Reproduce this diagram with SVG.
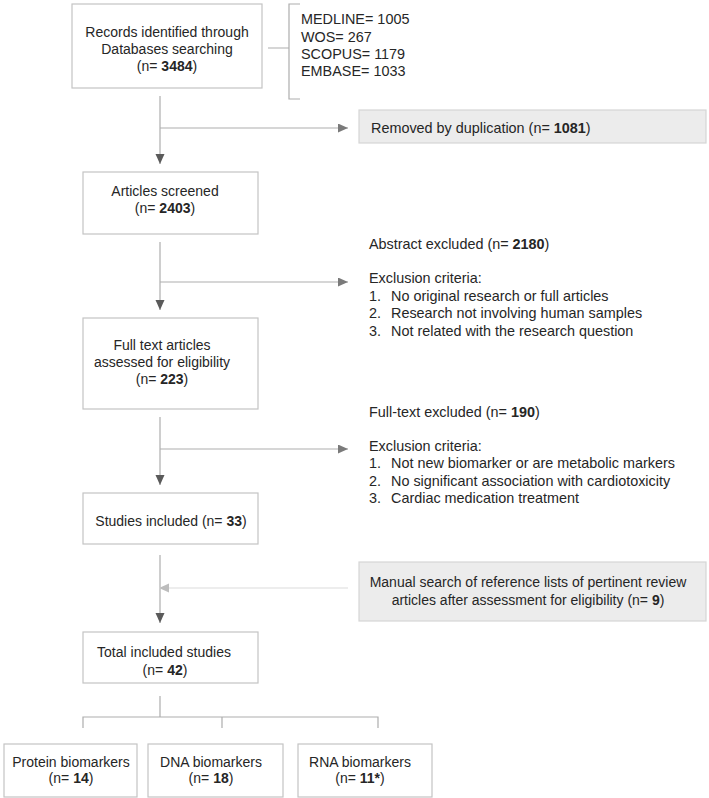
<svg xmlns="http://www.w3.org/2000/svg" width="709" height="798" viewBox="0 0 709 798">
<style>
text{font-family:"Liberation Sans",Arial,sans-serif;font-size:14px;fill:#262626}
.r{font-size:14.4px}
.c{text-anchor:middle}
.b{font-weight:bold}
.box{fill:#fff;stroke:#c4c4c4;stroke-width:1.2}
.gbox{fill:#ececec;stroke:#d6d6d6;stroke-width:1.2}
.ln{fill:none;stroke:#adadad;stroke-width:1.2}
.lg{fill:none;stroke:#dcdcdc;stroke-width:1.2}
</style>
<defs>
<marker id="arr" markerUnits="userSpaceOnUse" markerWidth="11" markerHeight="10" refX="10" refY="4.5" orient="auto"><path d="M0,0 L10,4.5 L0,9 z" fill="#5a5a5a"/></marker>
<marker id="arrh" markerUnits="userSpaceOnUse" markerWidth="11" markerHeight="10" refX="10" refY="4.5" orient="auto"><path d="M0,0 L10,4.5 L0,9 z" fill="#7a7a7a"/></marker>
<marker id="arrg" markerUnits="userSpaceOnUse" markerWidth="11" markerHeight="10" refX="10" refY="4.5" orient="auto"><path d="M0,0 L10,4.5 L0,9 z" fill="#bdbdbd"/></marker>
</defs>
<rect width="709" height="798" fill="#fff"/>
<g id="connectors">
<path class="ln" d="M268,48 H289 M300,4 H289 V99 H300"/>
<line class="ln" x1="160" y1="96" x2="160" y2="164" marker-end="url(#arr)"/>
<line class="ln" x1="160" y1="128" x2="348" y2="128" marker-end="url(#arrh)"/>
<line class="ln" x1="160" y1="242" x2="160" y2="310" marker-end="url(#arr)"/>
<line class="ln" x1="160" y1="282" x2="348" y2="282" marker-end="url(#arrh)"/>
<line class="ln" x1="160" y1="417" x2="160" y2="485" marker-end="url(#arr)"/>
<line class="ln" x1="160" y1="449" x2="348" y2="449" marker-end="url(#arrh)"/>
<line class="ln" x1="160" y1="555" x2="160" y2="623" marker-end="url(#arr)"/>
<line class="lg" x1="348" y1="588" x2="159" y2="588" marker-end="url(#arrg)"/>
<path class="ln" d="M160,696 V717 M83,728 V717 H378 V728 M222,717 V728"/>
</g>
<g id="records">
<rect class="box" x="72" y="4" width="190" height="84"/>
<text class="c" x="167" y="37">Records identified through</text>
<text class="c" x="167" y="54">Databases searching</text>
<text class="c" x="167" y="71">(n= <tspan class="b">3484</tspan>)</text>
</g>
<g id="databases">
<text class="r" x="301" y="24">MEDLINE= 1005</text>
<text class="r" x="301" y="41.5">WOS= 267</text>
<text class="r" x="301" y="59">SCOPUS= 1179</text>
<text class="r" x="301" y="76">EMBASE= 1033</text>
</g>
<g id="duplicates">
<rect class="gbox" x="359" y="110" width="347" height="33"/>
<text class="r" x="371" y="133">Removed by duplication (n= <tspan class="b">1081</tspan>)</text>
</g>
<g id="screened">
<rect class="box" x="83" y="172" width="175" height="62"/>
<text class="c" x="165" y="196">Articles screened</text>
<text class="c" x="165" y="213">(n= <tspan class="b">2403</tspan>)</text>
</g>
<g id="abstract-excluded">
<text class="r" x="369" y="249">Abstract excluded (n= <tspan class="b">2180</tspan>)</text>
<text class="r" x="369" y="283">Exclusion criteria:</text>
<text class="r" x="369" y="300.5">1.</text><text class="r" x="391" y="300.5">No original research or full articles</text>
<text class="r" x="369" y="318">2.</text><text class="r" x="391" y="318">Research not involving human samples</text>
<text class="r" x="369" y="335.5">3.</text><text class="r" x="391" y="335.5">Not related with the research question</text>
</g>
<g id="fulltext">
<rect class="box" x="83" y="318" width="175" height="91"/>
<text class="c" x="162" y="350">Full text articles</text>
<text class="c" x="162" y="367">assessed for eligibility</text>
<text class="c" x="162" y="384">(n= <tspan class="b">223</tspan>)</text>
</g>
<g id="fulltext-excluded">
<text class="r" x="369" y="417">Full-text excluded (n= <tspan class="b">190</tspan>)</text>
<text class="r" x="369" y="451">Exclusion criteria:</text>
<text class="r" x="369" y="468">1.</text><text class="r" x="391" y="468">Not new biomarker or are metabolic markers</text>
<text class="r" x="369" y="485.5">2.</text><text class="r" x="391" y="485.5">No significant association with cardiotoxicity</text>
<text class="r" x="369" y="502.5">3.</text><text class="r" x="391" y="502.5">Cardiac medication treatment</text>
</g>
<g id="studies-included">
<rect class="box" x="83" y="493" width="175" height="51"/>
<text class="c" x="171" y="526">Studies included (n= <tspan class="b">33</tspan>)</text>
</g>
<g id="manual-search">
<rect class="gbox" x="359" y="562" width="347" height="59"/>
<text class="c" x="528" y="587">Manual search of reference lists of pertinent review</text>
<text class="c" x="528" y="605">articles after assessment for eligibility (n= <tspan class="b">9</tspan>)</text>
</g>
<g id="total">
<rect class="box" x="83" y="632" width="175" height="51"/>
<text class="c" x="164" y="657">Total included studies</text>
<text class="c" x="165" y="675">(n= <tspan class="b">42</tspan>)</text>
</g>
<g id="protein">
<rect class="box" x="4" y="744" width="133" height="53"/>
<text class="c" x="71" y="767">Protein biomarkers</text>
<text class="c" x="71" y="783">(n= <tspan class="b">14</tspan>)</text>
</g>
<g id="dna">
<rect class="box" x="148" y="744" width="135" height="53"/>
<text class="c" x="211" y="767">DNA biomarkers</text>
<text class="c" x="211" y="783">(n= <tspan class="b">18</tspan>)</text>
</g>
<g id="rna">
<rect class="box" x="298" y="744" width="134" height="53"/>
<text class="c" x="360" y="767">RNA biomarkers</text>
<text class="c" x="360" y="783">(n= <tspan class="b">11*</tspan>)</text>
</g>
</svg>
